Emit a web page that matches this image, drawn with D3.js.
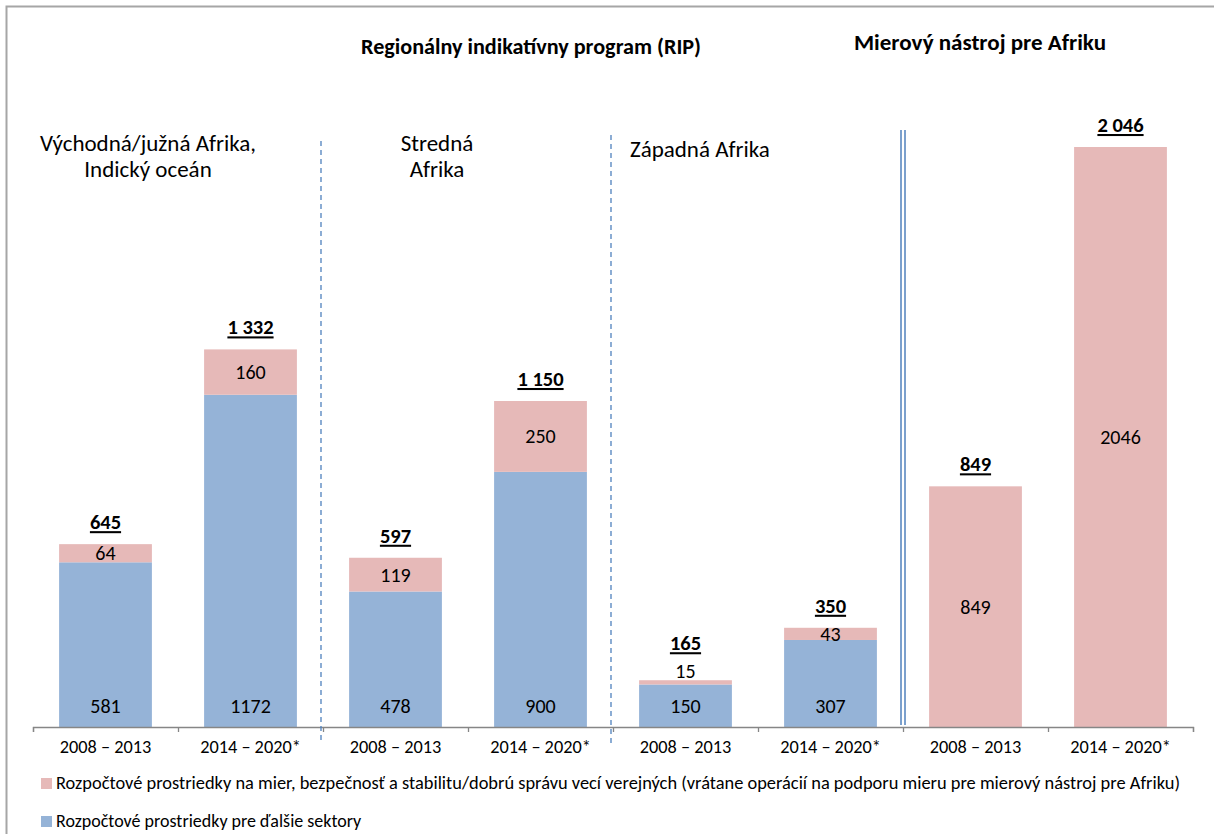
<!DOCTYPE html>
<html>
<head>
<meta charset="utf-8">
<script src="https://cdn.jsdelivr.net/npm/d3@7"></script>
<style>
  body { margin: 0; background: #fff; }
  svg { display: block; font-family: Carlito, Lato, sans-serif; }
</style>
</head>
<body>
<svg width="1214" height="834"></svg>
<script>
// data
const periods = ["2008 – 2013", "2014 – 2020*", "2008 – 2013", "2014 – 2020*",
                 "2008 – 2013", "2014 – 2020*", "2008 – 2013", "2014 – 2020*"];
const otherSectors = [581, 1172, 478, 900, 150, 307, 0, 0];
const peaceSecurity = [64, 160, 119, 250, 15, 43, 849, 2046];
const regionLabels = [["Východná/južná Afrika,", "Indický oceán"], ["Stredná", "Afrika"], ["Západná Afrika"]];
const titles = ["Regionálny indikatívny program (RIP)", "Mierový nástroj pre Afriku"];
const legendLabels = [
  "Rozpočtové prostriedky na mier, bezpečnosť a stabilitu/dobrú správu vecí verejných (vrátane operácií na podporu mieru pre mierový nástroj pre Afriku)",
  "Rozpočtové prostriedky pre ďalšie sektory"
];

const blue = "#95b3d7", pink = "#e6b9b8", lineBlue = "#4f81bd";

const svg = d3.select("svg");
const margin = { left: 33, right: 21, top: 147, bottom: 107 };
const width = +svg.attr("width"), height = +svg.attr("height");
const baseY = height - margin.bottom;

const data = periods.map((p, i) => ({ i, period: p, Other: otherSectors[i], Peace: peaceSecurity[i] }));
const totals = data.map(d => d.Other + d.Peace);

// outer frame (only left/top are in view)
svg.append("rect")
  .attr("x", 6.5).attr("y", 6.5).attr("width", 1400).attr("height", 1000)
  .attr("fill", "none").attr("stroke", "#a6a6a6").attr("stroke-width", 2);

const x = d3.scaleBand()
  .domain(d3.range(periods.length))
  .range([margin.left, width - margin.right])
  .paddingInner(0.36).paddingOuter(0.18);
const xEdge = d3.scaleLinear()
  .domain([0, periods.length])
  .range([margin.left, width - margin.right]);
const y = d3.scaleLinear()
  .domain([0, d3.max(totals)])
  .range([baseY, margin.top]);

const stack = d3.stack().keys(["Other", "Peace"]);
const series = stack(data);
const color = { Other: blue, Peace: pink };

const marks = svg.append("g");
marks.selectAll("g").data(series).join("g")
    .attr("fill", s => color[s.key])
  .selectAll("rect").data(s => s).join("rect")
    .attr("x", d => x(d.data.i))
    .attr("width", x.bandwidth())
    .attr("y", d => y(d[1]))
    .attr("height", d => y(d[0]) - y(d[1]));

// segment labels
const fmt = d3.format("d");
const small = d => (y(d.Other) - y(d.Other + d.Peace)) < 10;
data.forEach(d => {
  const cx = x(d.i) + x.bandwidth() / 2;
  if (d.Other > 0) {
    svg.append("text").attr("x", cx).attr("y", baseY - 14)
      .attr("text-anchor", "middle").attr("font-size", 20).attr("fill", "#000")
      .text(fmt(d.Other));
  }
  const top = y(d.Other + d.Peace), bot = y(d.Other);
  const by = small(d) ? top - 2 : (top + bot) / 2 + 7;
  svg.append("text").attr("x", cx).attr("y", by)
    .attr("text-anchor", "middle").attr("font-size", 20).attr("fill", "#000")
    .text(fmt(d.Peace));
});

// totals
const fmtTotal = d3.formatLocale({ decimal: ",", thousands: " ", grouping: [3], currency: ["", ""] }).format(",d");
svg.selectAll(".total").data(data).join("text")
  .attr("class", "total")
  .attr("x", d => x(d.i) + x.bandwidth() / 2)
  .attr("y", d => y(totals[d.i]) - (small(d) ? 30 : 15))
  .attr("text-anchor", "middle")
  .attr("font-size", 20.5).attr("font-weight", "bold")
  .attr("text-decoration", "underline")
  .text(d => fmtTotal(totals[d.i]));

// x axis with ticks at category boundaries
const axisG = svg.append("g")
  .attr("transform", `translate(0,${baseY})`)
  .call(d3.axisBottom(xEdge).ticks(periods.length).tickSize(5).tickSizeOuter(5).tickFormat(""));
axisG.selectAll("path, line").attr("stroke", "#868686").attr("stroke-width", 1.3);

svg.selectAll(".xlab").data(data).join("text")
  .attr("class", "xlab")
  .attr("x", d => x(d.i) + x.bandwidth() / 2)
  .attr("y", baseY + 26)
  .attr("text-anchor", "middle").attr("font-size", 18.3)
  .text(d => d.period);

// dividers between regions
[[2, 141], [4, 135]].forEach(([k, top]) => {
  svg.append("line")
    .attr("x1", xEdge(k) - 2).attr("x2", xEdge(k) - 2)
    .attr("y1", top).attr("y2", baseY + 16)
    .attr("stroke", lineBlue).attr("stroke-width", 1.3)
    .attr("stroke-dasharray", "5,4");
});
[-2, 2].forEach(off => {
  svg.append("line")
    .attr("x1", xEdge(6) + off).attr("x2", xEdge(6) + off)
    .attr("y1", 130).attr("y2", baseY - 2)
    .attr("stroke", lineBlue).attr("stroke-width", 1.5);
});

// titles
svg.append("text").attr("x", 531).attr("y", 54).attr("text-anchor", "middle")
  .attr("font-size", 22).attr("font-weight", "bold")
  .attr("textLength", 340).attr("lengthAdjust", "spacingAndGlyphs").text(titles[0]);
svg.append("text").attr("x", 980).attr("y", 50).attr("text-anchor", "middle")
  .attr("font-size", 22).attr("font-weight", "bold")
  .attr("textLength", 252).attr("lengthAdjust", "spacingAndGlyphs").text(titles[1]);

// region labels
const reg = svg.append("g").attr("font-size", 23);
regionLabels[0].forEach((t, k) => reg.append("text").attr("x", 148).attr("y", 151 + k * 26)
  .attr("text-anchor", "middle").text(t));
regionLabels[1].forEach((t, k) => reg.append("text").attr("x", 437).attr("y", 151 + k * 26)
  .attr("text-anchor", "middle").text(t));
reg.append("text").attr("x", 630).attr("y", 157).text(regionLabels[2][0]);

// legend
const legend = svg.append("g").attr("font-size", 18);
[[pink, 783, 1124], [blue, 821, null]].forEach(([c, cy, len], k) => {
  legend.append("rect").attr("x", 41).attr("y", cy - 5).attr("width", 11).attr("height", 11).attr("fill", c);
  const t = legend.append("text").attr("x", 56).attr("y", cy + 6).text(legendLabels[k]);
  if (len) t.attr("textLength", len).attr("lengthAdjust", "spacingAndGlyphs");
});
</script>
</body>
</html>
